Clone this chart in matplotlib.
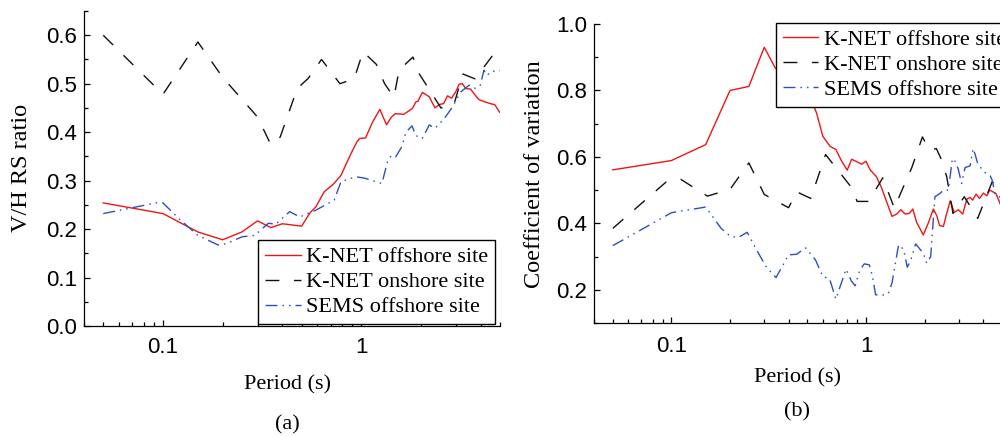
import matplotlib
matplotlib.use("Agg")
import matplotlib.pyplot as plt
from matplotlib.ticker import FixedLocator, FixedFormatter, MultipleLocator, LogLocator, NullFormatter

# ---------------- data: panel (a) V/H RS ratio ----------------
T_a_knet_off = [0.05, 0.10, 0.15, 0.20, 0.25, 0.30, 0.35, 0.40, 0.50, 0.55, 0.59, 0.65, 0.72,
                0.79, 0.84, 0.89, 0.95, 0.98, 1.05, 1.14, 1.24, 1.34, 1.41, 1.48, 1.64, 1.81,
                1.88, 1.93, 2.03, 2.20, 2.35, 2.47, 2.60, 2.72, 2.85, 2.99, 3.11, 3.23, 3.36,
                3.55, 3.77, 3.92, 4.23, 4.55, 4.70, 4.98]
V_a_knet_off = [0.254, 0.232, 0.194, 0.178, 0.194, 0.217, 0.203, 0.211, 0.206, 0.233, 0.246,
                0.277, 0.292, 0.311, 0.335, 0.357, 0.380, 0.387, 0.388, 0.421, 0.447, 0.415,
                0.430, 0.438, 0.437, 0.449, 0.462, 0.464, 0.482, 0.473, 0.450, 0.457, 0.459,
                0.475, 0.470, 0.483, 0.499, 0.500, 0.490, 0.489, 0.475, 0.467, 0.462, 0.458,
                0.457, 0.441]

T_a_knet_on = [0.05, 0.10, 0.15, 0.20, 0.25, 0.30, 0.35, 0.39, 0.475, 0.54, 0.63, 0.78, 0.92,
               1.02, 1.19, 1.31, 1.46, 1.55, 1.82, 1.96, 2.52, 2.93, 3.25, 3.74, 4.95]
V_a_knet_on = [0.600, 0.478, 0.586, 0.513, 0.468, 0.431, 0.374, 0.390, 0.490, 0.511, 0.550,
               0.500, 0.510, 0.566, 0.540, 0.500, 0.472, 0.528, 0.555, 0.520, 0.450, 0.457,
               0.520, 0.510, 0.576]

T_a_sems = [0.05, 0.095, 0.10, 0.12, 0.15, 0.19, 0.21, 0.25, 0.29, 0.34, 0.37, 0.435, 0.49,
            0.59, 0.73, 0.79, 0.94, 1.04, 1.27, 1.36, 1.42, 1.49, 1.60, 1.68, 1.80, 1.88,
            2.03, 2.20, 2.35, 2.61, 2.88, 3.17, 3.50, 3.77, 3.98, 4.15, 4.30, 4.50, 5.0]
V_a_sems = [0.232, 0.255, 0.254, 0.222, 0.187, 0.167, 0.170, 0.184, 0.187, 0.212, 0.210,
            0.236, 0.225, 0.239, 0.260, 0.298, 0.308, 0.305, 0.294, 0.342, 0.352, 0.349,
            0.370, 0.400, 0.413, 0.393, 0.387, 0.415, 0.408, 0.427, 0.452, 0.483, 0.497,
            0.490, 0.497, 0.528, 0.517, 0.525, 0.527]

# ---------------- data: panel (b) coefficient of variation ----------------
T_b_knet_off = [0.05, 0.10, 0.15, 0.20, 0.25, 0.30, 0.34, 0.42, 0.48, 0.536, 0.557, 0.60,
                0.653, 0.70, 0.75, 0.80, 0.844, 0.90, 0.95, 1.00, 1.05, 1.13, 1.20, 1.28,
                1.36, 1.44, 1.51, 1.59, 1.67, 1.74, 1.82, 1.97, 2.09, 2.22, 2.31, 2.39, 2.50,
                2.58, 2.71, 2.84, 2.98, 3.14, 3.30, 3.43, 3.53, 3.68, 3.83, 4.01, 4.18, 4.32,
                4.49, 4.67, 4.90, 5.0]
V_b_knet_off = [0.561, 0.589, 0.637, 0.800, 0.812, 0.930, 0.870, 0.800, 0.780, 0.757, 0.732,
                0.662, 0.632, 0.622, 0.587, 0.560, 0.593, 0.585, 0.578, 0.587, 0.561, 0.541,
                0.508, 0.463, 0.421, 0.428, 0.441, 0.428, 0.430, 0.443, 0.403, 0.365, 0.401,
                0.443, 0.423, 0.393, 0.391, 0.423, 0.468, 0.433, 0.441, 0.428, 0.473, 0.478,
                0.470, 0.488, 0.475, 0.491, 0.483, 0.500, 0.495, 0.488, 0.458, 0.450]

T_b_knet_on = [0.05, 0.095, 0.112, 0.153, 0.20, 0.25, 0.30, 0.40, 0.44, 0.52, 0.62, 0.85,
               0.90, 1.03, 1.22, 1.40, 1.50, 1.72, 1.95, 2.12, 2.30, 2.45, 2.60, 2.80, 3.20,
               3.75, 4.45, 5.0]
V_b_knet_on = [0.385, 0.527, 0.532, 0.482, 0.502, 0.582, 0.487, 0.447, 0.495, 0.475, 0.607,
               0.505, 0.466, 0.466, 0.537, 0.445, 0.488, 0.568, 0.660, 0.620, 0.625, 0.590,
               0.540, 0.430, 0.480, 0.415, 0.525, 0.500]

T_b_sems = [0.05, 0.10, 0.15, 0.18, 0.20, 0.22, 0.245, 0.28, 0.31, 0.345, 0.40, 0.44, 0.49,
            0.55, 0.60, 0.65, 0.70, 0.79, 0.84, 0.88, 0.93, 0.98, 1.04, 1.08, 1.12, 1.20,
            1.30, 1.36, 1.47, 1.56, 1.63, 1.70, 1.80, 1.97, 2.05, 2.15, 2.26, 2.40, 2.50,
            2.65, 2.78, 2.87, 2.98, 3.10, 3.23, 3.43, 3.55, 3.64, 3.75, 3.94, 4.09, 4.35,
            4.45, 4.60, 5.0]
V_b_sems = [0.333, 0.432, 0.449, 0.385, 0.362, 0.357, 0.373, 0.310, 0.265, 0.237, 0.305,
            0.307, 0.326, 0.290, 0.240, 0.233, 0.172, 0.262, 0.227, 0.212, 0.260, 0.278,
            0.275, 0.240, 0.185, 0.183, 0.188, 0.220, 0.335, 0.322, 0.268, 0.290, 0.338,
            0.310, 0.280, 0.300, 0.480, 0.490, 0.500, 0.500, 0.595, 0.587, 0.563, 0.520,
            0.568, 0.573, 0.625, 0.607, 0.580, 0.563, 0.553, 0.543, 0.530, 0.490, 0.475]

labels = ["K-NET offshore site", "K-NET onshore site", "SEMS offshore site"]
panel_tags = ["(a)", "(b)"]
ylabels = ["V/H RS ratio", "Coefficient of variation"]
xlabel = "Period (s)"

# ---------------- styling ----------------
RED = "#F01515"
BLACK = "#111111"
BLUE = "#2E4FBF"
DASH = (0, (10, 10.5))
DASHDOTDOT = (0, (8.6, 3.6, 1.1, 3.6, 1.1, 3.6))
SERIF = ["Liberation Serif", "DejaVu Serif"]
SANS = ["Liberation Sans", "DejaVu Sans"]
FS = 16
FS_YLAB = 17.5

plt.rcParams["axes.linewidth"] = 0.9

fig = plt.figure(figsize=(10, 4.36), dpi=100)
ax1 = fig.add_axes([0.084, 110 / 436, 0.416, 315 / 436])
ax2 = fig.add_axes([0.594, 113 / 436, 0.408, 299 / 436])


def style_axes(ax, ylim, ymajor, yminor, xpad):
    ax.set_xscale("log")
    ax.set_xlim(0.04, 5)
    ax.set_ylim(*ylim)
    for s in ("top", "right"):
        ax.spines[s].set_visible(False)
    ax.xaxis.set_major_locator(FixedLocator([0.1, 1]))
    ax.xaxis.set_major_formatter(FixedFormatter(["0.1", "1"]))
    ax.xaxis.set_minor_locator(LogLocator(base=10, subs=[2, 3, 4, 5, 6, 7, 8, 9]))
    ax.xaxis.set_minor_formatter(NullFormatter())
    ax.yaxis.set_major_locator(MultipleLocator(ymajor))
    ax.yaxis.set_minor_locator(MultipleLocator(yminor))
    ax.yaxis.set_major_formatter(matplotlib.ticker.FormatStrFormatter("%.1f"))
    ax.tick_params(which="both", direction="in", top=False, right=False, width=0.9)
    ax.tick_params(which="major", length=4.5)
    ax.tick_params(which="minor", length=3)
    ax.tick_params(axis="x", which="major", pad=xpad)
    ax.tick_params(axis="y", which="major", pad=5)
    for lab in ax.get_xticklabels() + ax.get_yticklabels():
        lab.set_fontfamily(SANS)
        lab.set_fontsize(FS)


def draw(ax, T1, V1, T2, V2, T3, V3):
    ax.plot(T1, V1, color=RED, lw=1.0, label=labels[0])
    ax.plot(T2, V2, color=BLACK, lw=1.0, linestyle=DASH, label=labels[1])
    ax.plot(T3, V3, color=BLUE, lw=1.0, linestyle=DASHDOTDOT, label=labels[2])


draw(ax1, T_a_knet_off, V_a_knet_off, T_a_knet_on, V_a_knet_on, T_a_sems, V_a_sems)
draw(ax2, T_b_knet_off, V_b_knet_off, T_b_knet_on, V_b_knet_on, T_b_sems, V_b_sems)

style_axes(ax1, (0.0, 0.65), 0.1, 0.05, 8)
style_axes(ax2, (0.1, 1.0), 0.2, 0.1, 9)
ax2.yaxis.set_major_locator(FixedLocator([0.2, 0.4, 0.6, 0.8, 1.0]))

leg_kw = dict(prop={"family": SERIF, "size": FS}, frameon=True, fancybox=False,
              framealpha=1.0, edgecolor="black", borderpad=0.3, labelspacing=0.2,
              handlelength=1.6, handletextpad=0.25, borderaxespad=0.0)
leg1 = ax1.legend(loc="lower right", bbox_to_anchor=(411 / 416, 2 / 315), **leg_kw)
leg2 = ax2.legend(loc="upper left", bbox_to_anchor=(182 / 408, 300 / 299), **leg_kw)
for leg in (leg1, leg2):
    leg.get_frame().set_linewidth(1.0)

for ax, yl in ((ax1, ylabels[0]), (ax2, ylabels[1])):
    ax.set_ylabel(yl, fontfamily=SERIF, fontsize=FS_YLAB)
    ax.set_xlabel(xlabel, fontfamily=SERIF, fontsize=FS)

ax1.xaxis.set_label_coords((287 - 84) / 416, (326 - 375) / 315)
ax2.xaxis.set_label_coords((797 - 594) / 408, (323 - 368) / 299)
ax1.yaxis.set_label_coords((32 - 84) / 416, (326 - 168) / 315)
ax2.yaxis.set_label_coords((545 - 594) / 408, (323 - 174) / 299)

fig.text(287 / 1000, 1 - 425 / 436, panel_tags[0], ha="center", va="center",
         fontfamily=SERIF, fontsize=FS)
fig.text(797 / 1000, 1 - 412 / 436, panel_tags[1], ha="center", va="center",
         fontfamily=SERIF, fontsize=FS)

fig.savefig("out.png", dpi=100)
